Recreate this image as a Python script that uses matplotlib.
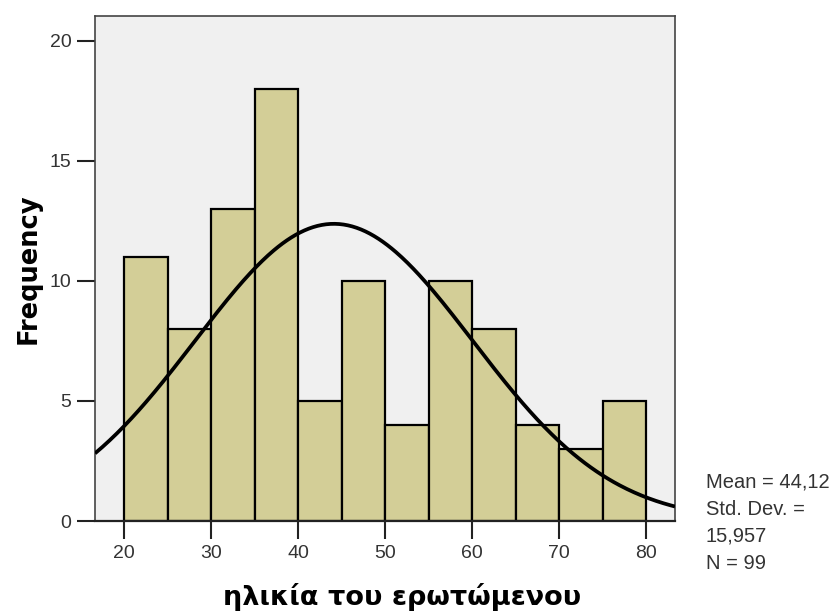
import numpy as np
import matplotlib.pyplot as plt

# bin edges (age) and frequencies
bin_edges = [20, 25, 30, 35, 40, 45, 50, 55, 60, 65, 70, 75, 80]
counts = [11, 8, 13, 18, 5, 10, 4, 10, 8, 4, 3, 5]
mean = 44.12
std = 15.957
n = 99

plt.rcParams['font.family'] = ['Liberation Sans', 'DejaVu Sans']

fig = plt.figure(figsize=(8.35, 6.15), dpi=100)
ax = fig.add_axes([0.1138, 0.1528, 0.6946, 0.8212])
ax.set_facecolor('#f0f0f0')

widths = np.diff(bin_edges)
ax.bar(bin_edges[:-1], counts, width=widths, align='edge',
       color='#d3ce97', edgecolor='black', linewidth=1.6, zorder=2)

# normal curve scaled to histogram
x = np.linspace(16.67, 83.33, 400)
bw = bin_edges[1] - bin_edges[0]
y = n * bw * np.exp(-0.5 * ((x - mean) / std) ** 2) / (std * np.sqrt(2 * np.pi))
ax.plot(x, y, color='black', linewidth=2.7, zorder=3, solid_capstyle='butt')

ax.set_xlim(16.67, 83.33)
ax.set_ylim(0, 21.03)
ax.set_xticks([20, 30, 40, 50, 60, 70, 80])
ax.set_yticks([0, 5, 10, 15, 20])

for s in ax.spines.values():
    s.set_color('#444444')
    s.set_linewidth(1.2)
ax.spines['bottom'].set_linewidth(1.6)
ax.spines['bottom'].set_color('#222222')

ax.tick_params(axis='both', direction='out', length=13, width=1.5,
               color='#222222', labelcolor='#333333', labelsize=14, pad=4)

ax.set_ylabel('Frequency', fontsize=18.5, fontweight='bold',
              family='DejaVu Sans', labelpad=6)
ax.set_xlabel('ηλικία του ερωτώμενου', fontsize=19.5, fontweight='bold',
              family='DejaVu Sans')
ax.xaxis.set_label_coords(0.53, -0.122)

fig.text(0.845, 0.068, f'Mean = {mean:.2f}'.replace('.', ',') + '\nStd. Dev. =\n' +
         f'{std:.3f}'.replace('.', ',') + f'\nN = {n}',
         fontsize=14.5, color='#333333', va='bottom', ha='left', linespacing=1.55)

fig.savefig('out.png', dpi=100)
